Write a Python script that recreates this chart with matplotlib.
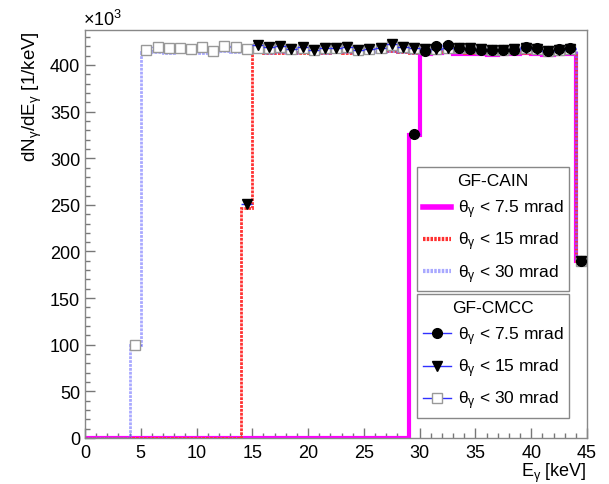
import matplotlib
matplotlib.use("Agg")
import matplotlib.pyplot as plt
import numpy as np
from matplotlib.lines import Line2D
from matplotlib.ticker import MultipleLocator

plt.rcParams['font.family'] = ['Liberation Sans', 'DejaVu Sans']
plt.rcParams['mathtext.fontset'] = 'custom'
plt.rcParams['mathtext.rm'] = 'Liberation Sans'
plt.rcParams['mathtext.it'] = 'Liberation Sans'
plt.rcParams['mathtext.default'] = 'regular'

# bin edges 0..45 keV, 1 keV bins
edges = np.arange(0, 46, 1)

# GF-CAIN histograms (x10^3 per keV), one value per bin
cain_30 = [0, 0, 0, 0, 100,
           414, 414, 413, 414, 414, 413, 414, 415, 414, 414,
           414, 413, 414, 413, 414, 414, 413, 414, 414, 413,
           414, 414, 415, 414, 413, 414, 415, 415, 414, 414,
           413, 414, 414, 413, 414, 414, 413, 414, 414, 190]
cain_15 = [0] * 14 + [247,
           414, 413, 413, 414, 413, 414, 413, 414, 413, 414,
           414, 414, 415, 414, 413, 413, 414, 414, 414, 413,
           413, 413, 413, 414, 413, 413, 412, 413, 413, 190]
cain_75 = [0] * 29 + [325,
           412, 413, 414, 412, 412, 412, 411, 412, 412, 413,
           412, 411, 412, 412, 190]

# GF-CMCC points at bin centres
sq_x = np.arange(4.5, 45, 1)
sq_y = [100, 416, 419, 418, 418, 417, 419, 415, 420, 419, 417,
        418, 418, 419, 417, 418, 416, 418, 418, 419, 416,
        417, 418, 421, 419, 418, 417, 417, 418, 418, 418,
        417, 416, 416, 417, 418, 417, 415, 416, 417, 190]
tri_x = np.arange(14.5, 45, 1)
tri_y = [251, 421, 419, 420, 417, 419, 416, 418, 418, 419, 416,
         417, 418, 422, 419, 418, 417, 417, 418, 418, 418,
         417, 416, 416, 417, 418, 417, 415, 416, 417, 190]
circ_x = np.arange(29.5, 45, 1)
circ_y = [326, 415, 420, 421, 418, 417, 416, 416, 416, 416,
          419, 418, 415, 417, 418, 190]

fig = plt.figure(figsize=(6.09, 4.85), dpi=100)
ax = fig.add_axes([85 / 609, 1 - 439 / 485, 502 / 609, 408 / 485])

c_mag = '#ff00ff'
c_red = '#ff3030'
c_blue = '#7070ff'

ax.stairs(cain_75, edges, baseline=None, color=c_mag, lw=3, zorder=2)
ax.stairs(cain_15, edges, baseline=None, color=c_red, lw=2,
          linestyle=(0, (1, 0.4)), zorder=3)
ax.stairs(cain_30, edges, baseline=None, color=c_blue, lw=2, alpha=0.6,
          linestyle=(0, (1, 0.4)), zorder=4)

ax.errorbar(sq_x, sq_y, xerr=0.5, fmt='s', ms=7, mfc='white', mec='#999999',
            mew=1, ecolor='#3030ff', elinewidth=1, zorder=5)
ax.errorbar(tri_x, tri_y, xerr=0.5, fmt='v', ms=7, mfc='black', mec='black',
            ecolor='#3030ff', elinewidth=1, zorder=6)
ax.errorbar(circ_x, circ_y, xerr=0.5, fmt='o', ms=7, mfc='black', mec='black',
            ecolor='#3030ff', elinewidth=1, zorder=7)

ax.set_xlim(0, 45)
ax.set_ylim(0, 437.5)
ax.xaxis.set_major_locator(MultipleLocator(5))
ax.xaxis.set_minor_locator(MultipleLocator(1))
ax.yaxis.set_major_locator(MultipleLocator(50))
ax.yaxis.set_minor_locator(MultipleLocator(10))
ax.tick_params(which='both', direction='in', colors='#777777', labelcolor='black',
               labelsize=13, top=False, right=False)
ax.tick_params(which='major', length=7.5, width=1)
ax.tick_params(which='minor', length=3.8, width=1)
ax.tick_params(axis='x', pad=4)
for s in ax.spines.values():
    s.set_color('#888888')
    s.set_linewidth(1)

ax.set_xlabel('E$_{γ}$ [keV]', fontsize=13, loc='right')
ax.xaxis.label.set_va('center')
ax.xaxis.set_label_coords(1.0, -0.085)
ax.set_ylabel('dN$_{γ}$/dE$_{γ}$ [1/keV]', fontsize=13.5, loc='top')
ax.yaxis.label.set_va('center')
ax.yaxis.set_label_coords(-0.104, 1.0)
fig.text(83 / 609, 1 - 26 / 485, '×10$^{3}$', fontsize=13, ha='left', va='baseline')

lab = ['θ$_{γ}$ < 7.5 mrad', 'θ$_{γ}$ < 15 mrad', 'θ$_{γ}$ < 30 mrad']
h1 = [Line2D([], [], color=c_mag, lw=4),
      Line2D([], [], color=c_red, lw=3, linestyle=(0, (0.6, 0.3))),
      Line2D([], [], color=c_blue, lw=3, alpha=0.6, linestyle=(0, (0.6, 0.3)))]
h2 = [Line2D([], [], color='#3030ff', lw=1, marker='o', ms=7, mfc='black', mec='black'),
      Line2D([], [], color='#3030ff', lw=1, marker='v', ms=7, mfc='black', mec='black'),
      Line2D([], [], color='#3030ff', lw=1, marker='s', ms=7, mfc='white', mec='#999999')]

leg_kw = dict(fontsize=12.5, title_fontsize=12.5, fancybox=False, framealpha=1,
              edgecolor='#888888', handlelength=1.6, handletextpad=0.4,
              labelspacing=0.55, borderpad=0.35, mode='expand', loc='upper left',
              borderaxespad=0)
leg1 = ax.legend(h1, lab, title='GF-CAIN',
                 bbox_to_anchor=(0.661, 0.364, 0.303, 0.3), **leg_kw)
leg1.get_frame().set_linewidth(1)
ax.add_artist(leg1)
leg2 = ax.legend(h2, lab, title='GF-CMCC',
                 bbox_to_anchor=(0.661, 0.05, 0.303, 0.303), **leg_kw)
leg2.get_frame().set_linewidth(1)

fig.savefig('out.png', dpi=100)
